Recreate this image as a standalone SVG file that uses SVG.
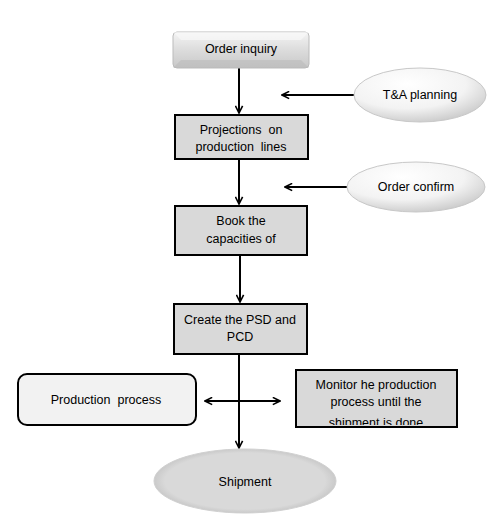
<svg xmlns="http://www.w3.org/2000/svg" width="504" height="524" viewBox="0 0 504 524">
<style>
text{font-family:"Liberation Sans",Arial,sans-serif;font-size:12.5px;fill:#000;text-anchor:middle;white-space:pre}
.box{fill:#d9d9d9;stroke:#000;stroke-width:2}
.ln{stroke:#000;stroke-width:2;fill:none}
</style>
<defs>
<marker id="ah" viewBox="0 0 10 10" refX="9" refY="5" markerWidth="9" markerHeight="9" markerUnits="userSpaceOnUse" orient="auto-start-reverse">
<path d="M1,1 L9,5 L1,9" fill="none" stroke="#000" stroke-width="1.8"/>
</marker>
<linearGradient id="bev" x1="0" y1="0" x2="0" y2="1">
<stop offset="0" stop-color="#f4f4f4"/><stop offset="0.5" stop-color="#dcdcdc"/><stop offset="1" stop-color="#c8c8c8"/>
</linearGradient>
<radialGradient id="ell" cx="0.4" cy="0.3" r="0.75">
<stop offset="0" stop-color="#ffffff"/><stop offset="0.6" stop-color="#f3f3f3"/><stop offset="1" stop-color="#c8c8c8"/>
</radialGradient>
<radialGradient id="shp" cx="0.5" cy="0.5" r="0.55">
<stop offset="0.8" stop-color="#d9d9d9"/><stop offset="1" stop-color="#bdbdbd"/>
</radialGradient>
<clipPath id="cm"><rect x="296" y="370" width="161" height="55"/></clipPath>
</defs>
<g id="connectors">
<line class="ln" x1="239" y1="68" x2="239" y2="113" marker-end="url(#ah)"/>
<line class="ln" x1="355" y1="95" x2="282" y2="95" marker-end="url(#ah)"/>
<line class="ln" x1="239" y1="159" x2="239" y2="204" marker-end="url(#ah)"/>
<line class="ln" x1="347" y1="187" x2="285" y2="187" marker-end="url(#ah)"/>
<line class="ln" x1="240" y1="256" x2="240" y2="302" marker-end="url(#ah)"/>
<line class="ln" x1="239" y1="355" x2="239" y2="448" marker-end="url(#ah)"/>
<line class="ln" x1="205" y1="401" x2="280" y2="401" marker-start="url(#ah)" marker-end="url(#ah)"/>
</g>
<g id="order-inquiry">
<rect x="173" y="32" width="136" height="36" rx="4" fill="url(#bev)" stroke="#bbb" stroke-width="1"/>
<path d="M173,32 L181,40 L301,40 L309,32 Z" fill="#fafafa" opacity="0.6"/>
<path d="M173,68 L181,60 L301,60 L309,68 Z" fill="#b8b8b8" opacity="0.5"/>
<text x="241" y="53">Order inquiry</text>
</g>
<g id="ta-planning">
<ellipse cx="420" cy="95" rx="66" ry="27" fill="url(#ell)" stroke="#c8c8c8"/>
<text x="420" y="99">T&amp;A planning</text>
</g>
<g id="projections">
<rect class="box" x="175" y="115" width="133" height="44"/>
<text x="241" y="134">Projections  on</text>
<text x="241" y="151">production  lines</text>
</g>
<g id="order-confirm">
<ellipse cx="416" cy="187" rx="69" ry="25" fill="url(#ell)" stroke="#c8c8c8"/>
<text x="416" y="191">Order confirm</text>
</g>
<g id="book">
<rect class="box" x="175" y="206" width="132" height="49"/>
<text x="241" y="225">Book the</text>
<text x="241" y="243">capacities of</text>
</g>
<g id="create-psd">
<rect class="box" x="174" y="304" width="133" height="50"/>
<text x="240" y="324">Create the PSD and</text>
<text x="240" y="341">PCD</text>
</g>
<g id="production-process">
<rect x="18" y="374" width="178" height="51" rx="9" fill="#f2f2f2" stroke="#000" stroke-width="2"/>
<text x="106" y="404">Production  process</text>
</g>
<g id="monitor">
<rect class="box" x="296" y="370" width="161" height="57"/>
<g clip-path="url(#cm)">
<text x="376" y="389">Monitor he production</text>
<text x="376" y="406">process until the</text>
<text x="376" y="427">shipment is done</text>
</g>
</g>
<g id="shipment">
<ellipse cx="245" cy="481" rx="91" ry="32" fill="url(#shp)" stroke="#d0d0d0"/>
<text x="245" y="486">Shipment</text>
</g>
</svg>
